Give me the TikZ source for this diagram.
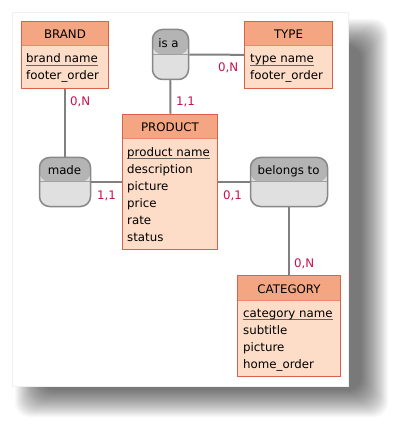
\documentclass[tikz,border=0pt]{standalone}
\usepackage{fontspec}
\setmainfont{DejaVu Sans}
\usepackage{tikz}

\definecolor{enthead}{RGB}{244,166,130}
\definecolor{entbody}{RGB}{253,221,200}
\definecolor{entline}{RGB}{220,96,76}
\definecolor{entdiv}{RGB}{236,136,112}
\definecolor{relhead}{RGB}{180,180,180}
\definecolor{relbody}{RGB}{224,224,224}
\definecolor{relline}{RGB}{136,136,136}
\definecolor{linkline}{RGB}{128,128,128}
\definecolor{cardcol}{RGB}{200,16,80}
\definecolor{keyline}{RGB}{110,100,95}

\newcommand{\keyattr}[1]{\setbox0\hbox{#1}\rlap{\color{keyline}\rule[-3pt]{\wd0}{1.3pt}}\box0}

\begin{document}
\begin{tikzpicture}[x=1pt, y=-1pt, font=\fontsize{11.8}{17}\selectfont]
          \tikzstyle{entity}=[draw=entline, line width=1.5pt, fill=entbody, inner sep=0pt,
            path picture={\fill[enthead] (path picture bounding box.north west) rectangle ([yshift=-24.5pt]path picture bounding box.north east);
                          \draw[entdiv, line width=1pt] ([yshift=-24.5pt]path picture bounding box.north west) -- ([yshift=-24.5pt]path picture bounding box.north east);}]
          \tikzstyle{relation}=[draw=relline, line width=1.5pt, fill=relbody, rounded corners=10pt, inner sep=0pt,
            path picture={\fill[relhead] (path picture bounding box.north west) rectangle (path picture bounding box.east);
                          \draw[relline!80, line width=1pt] (path picture bounding box.west) -- (path picture bounding box.east);}]
          \tikzstyle{title}=[anchor=base, inner sep=0pt]
          \tikzstyle{attr}=[anchor=base west, inner sep=0pt]
          \tikzstyle{card}=[anchor=base west, inner sep=0pt, text=cardcol]
          \tikzstyle{link}=[draw=linkline, line width=2pt]

          \useasboundingbox (0, 0) rectangle (401, 438);
          \fill[white] (0, 0) rectangle (401, 438);

          % page and its shadow
          \foreach \k in {0,...,27}
            \fill[black, opacity=0.025, rounded corners=14pt] (42-\k, 46-\k) rectangle (361+\k, 390+\k);
          \fill[white, draw=black!6] (12, 12) rectangle (348, 386);

          % entities
          \node (brand) at (65, 55) [entity, minimum width=87pt, minimum height=67pt] {};
          \node (brandlabel) at (65, 39) [title] {BRAND};
          \node (brandkey) at (26, 63) [attr] {\keyattr{brand name}};
          \node (brandattr) at (26, 80) [attr] {footer\_order};

          \node (type) at (288.5, 55) [entity, minimum width=88pt, minimum height=67pt] {};
          \node (typelabel) at (288.5, 39) [title] {TYPE};
          \node (typekey) at (250, 63) [attr] {\keyattr{type name}};
          \node (typeattr) at (250, 80) [attr] {footer\_order};

          \node (product) at (170, 182) [entity, minimum width=95pt, minimum height=135pt] {};
          \node (productlabel) at (170, 132) [title] {PRODUCT};
          \node (productkey) at (127, 156.5) [attr] {\keyattr{product name}};
          \foreach \attrname [count=\i] in {description, picture, price, rate, status}
            \node (productattr\i) at (127, 156.5+17*\i) [attr] {\attrname};

          \node (category) at (289, 326) [entity, minimum width=103pt, minimum height=101pt] {};
          \node (categorylabel) at (289, 293) [title] {CATEGORY};
          \node (categorykey) at (243, 317) [attr] {\keyattr{category name}};
          \foreach \attrname [count=\i] in {subtitle, picture, home\_order}
            \node (categoryattr\i) at (243, 317+17*\i) [attr] {\attrname};

          % relationships
          \node (isa) at (170.5, 54.5) [relation, minimum width=36pt, minimum height=50pt] {};
          \node (isalabel) at (168.5, 48) [title] {is a};

          \node (made) at (65, 182) [relation, minimum width=51pt, minimum height=49pt] {};
          \node (madelabel) at (64.5, 175) [title] {made};

          \node (belongsto) at (289, 182) [relation, minimum width=77pt, minimum height=49pt] {};
          \node (belongstolabel) at (288.5, 175) [title] {belongs to};

          % links
          \draw[link] (brand) -- (made);
          \draw[link] (made) -- (product);
          \draw[link] (isa) -- (product);
          \draw[link] (isa) -- (type);
          \draw[link] (product) -- (belongsto);
          \draw[link] (belongsto) -- (category);

          % cardinalities
          \node (brandcard) at (70, 106) [card] {0,N};
          \node (isacard) at (176, 106) [card] {1,1};
          \node (typecard) at (218, 72) [card] {0,N};
          \node (madecard) at (97, 199) [card] {1,1};
          \node (belongscard) at (223, 199) [card] {0,1};
          \node (categorycard) at (294, 267) [card] {0,N};
        \end{tikzpicture}
\end{document}
